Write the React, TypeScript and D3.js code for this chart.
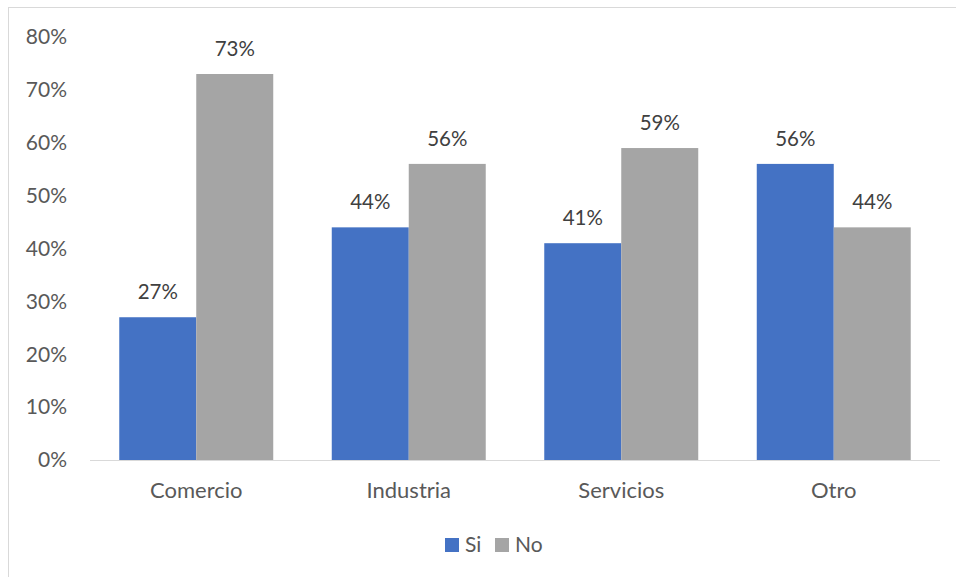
import React from "react";
import * as d3 from "d3";

const categories = ["Comercio", "Industria", "Servicios", "Otro"];
const seriesNames = ["Si", "No"];
const siValues = [27, 44, 41, 56];
const noValues = [73, 56, 59, 44];
const yTicks = [0, 10, 20, 30, 40, 50, 60, 70, 80];
const colors = ["#4472C4", "#A5A5A5"];

const W = 956;
const H = 577;
const FONT = "Lato, 'Liberation Sans', sans-serif";

export default function App() {
  const x0 = d3.scaleBand<string>().domain(categories).range([90, 940]).paddingInner(0).paddingOuter(0);
  const x1 = d3.scaleBand<string>().domain(seriesNames).range([0, x0.bandwidth()]).paddingInner(0).paddingOuter(0.38);
  const y = d3.scaleLinear().domain([0, 80]).range([460, 37]);
  const data = [siValues, noValues];

  return (
    <svg width={W} height={H} style={{ position: "absolute", left: 0, top: 0, background: "#fff" }} fontFamily={FONT}>
      <rect x={8.5} y={7.5} width={W} height={H} fill="#fff" stroke="#D9D9D9" strokeWidth={1} />
      {yTicks.map((t) => (
        <text key={t} x={67} y={y(t)} dy="0.35em" textAnchor="end" fontSize={21} fill="#595959">
          {t}%
        </text>
      ))}
      {categories.map((c, i) => (
        <g key={c}>
          {seriesNames.map((s, j) => {
            const v = data[j][i];
            const bx = (x0(c) as number) + (x1(s) as number);
            return (
              <g key={s}>
                <rect x={bx} y={y(v)} width={x1.bandwidth()} height={y(0) - y(v)} fill={colors[j]} />
                <text x={bx + x1.bandwidth() / 2} y={y(v) - 18} textAnchor="middle" fontSize={20.5} fill="#404040">
                  {v}%
                </text>
              </g>
            );
          })}
          <text x={(x0(c) as number) + x0.bandwidth() / 2} y={498} textAnchor="middle" fontSize={22} fill="#595959">
            {c}
          </text>
        </g>
      ))}
      <line x1={90} x2={940} y1={460.5} y2={460.5} stroke="#D9D9D9" strokeWidth={1} />
      {seriesNames.map((s, j) => (
        <g key={s} transform={`translate(${445 + j * 50},538)`}>
          <rect x={0} y={0} width={14} height={14} fill={colors[j]} />
          <text x={20} y={14} fontSize={21} fill="#595959">
            {s}
          </text>
        </g>
      ))}
    </svg>
  );
}
